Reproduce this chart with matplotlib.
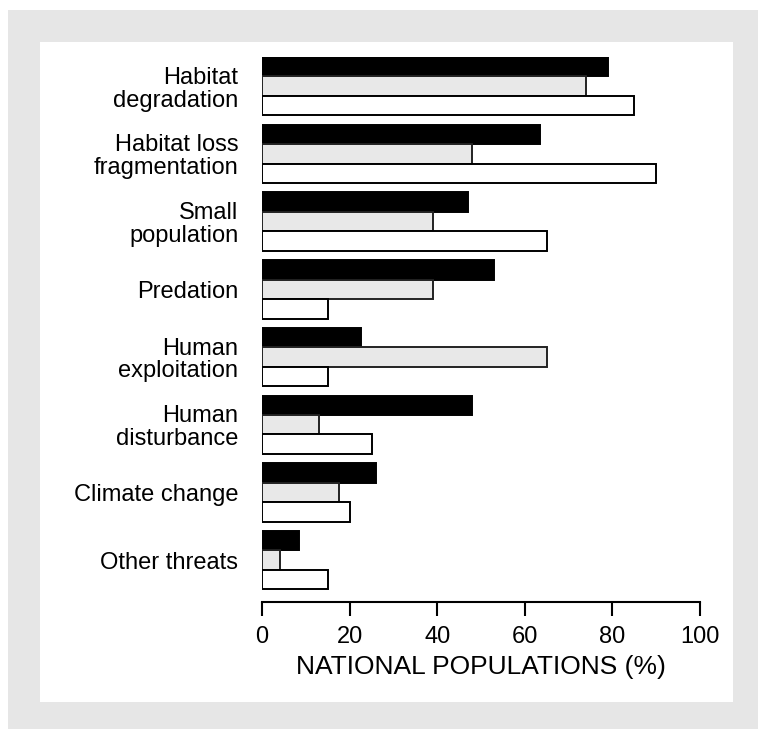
import numpy as np
import matplotlib
matplotlib.use("Agg")
import matplotlib.pyplot as plt
from matplotlib.patches import Rectangle

threats = [
    "Habitat\ndegradation",
    "Habitat loss\nfragmentation",
    "Small\npopulation",
    "Predation",
    "Human\nexploitation",
    "Human\ndisturbance",
    "Climate change",
    "Other threats",
]
black_vals = [79, 63.5, 47, 53, 22.5, 48, 26, 8.5]
grey_vals = [74, 48, 39, 39, 65, 13, 17.5, 4]
white_vals = [85, 90, 65, 15, 15, 25, 20, 15]
xticks = [0, 20, 40, 60, 80, 100]

plt.rcParams['font.family'] = ['Liberation Sans', 'DejaVu Sans']

fig = plt.figure(figsize=(7.58, 7.29), dpi=100, facecolor='white')

# grey frame and white panel behind the plot
fig.patches.append(Rectangle((8 / 758, 0), 1, 1 - 10 / 729, transform=fig.transFigure,
                             facecolor='#e6e6e6', edgecolor='none', zorder=-2))
fig.patches.append(Rectangle((40 / 758, 1 - 702 / 729), (733 - 40) / 758, (702 - 42) / 729,
                             transform=fig.transFigure, facecolor='white',
                             edgecolor='none', zorder=-1))

ax = fig.add_axes([262 / 758, 1 - 602 / 729, 438 / 758, 545 / 729])
ax.patch.set_alpha(0)

y = -np.arange(len(threats))
h = 0.288
lw = 1.4
ax.barh(y + h, black_vals, height=h, color='black', edgecolor='black', linewidth=lw)
ax.barh(y, grey_vals, height=h, color='#e8e8e8', edgecolor='#222222', linewidth=lw)
ax.barh(y - h, white_vals, height=h, color='white', edgecolor='black', linewidth=lw)

ax.set_xlim(0, 100)
ax.set_ylim(0.432 - 545 / 67.7, 0.432)
ax.set_xticks(xticks)
ax.set_xticklabels([str(t) for t in xticks], fontsize=17)
ax.set_yticks(y)
ax.set_yticklabels(threats, fontsize=17, linespacing=1.05)
ax.tick_params(axis='y', length=0, pad=17)
ax.tick_params(axis='x', direction='out', length=10, width=1.5, pad=7)

for s in ['top', 'right', 'left']:
    ax.spines[s].set_visible(False)
ax.spines['bottom'].set_linewidth(1.5)

ax.set_xlabel("NATIONAL POPULATIONS (%)", fontsize=19, labelpad=5)

fig.savefig("out.png", dpi=100, facecolor='white')
